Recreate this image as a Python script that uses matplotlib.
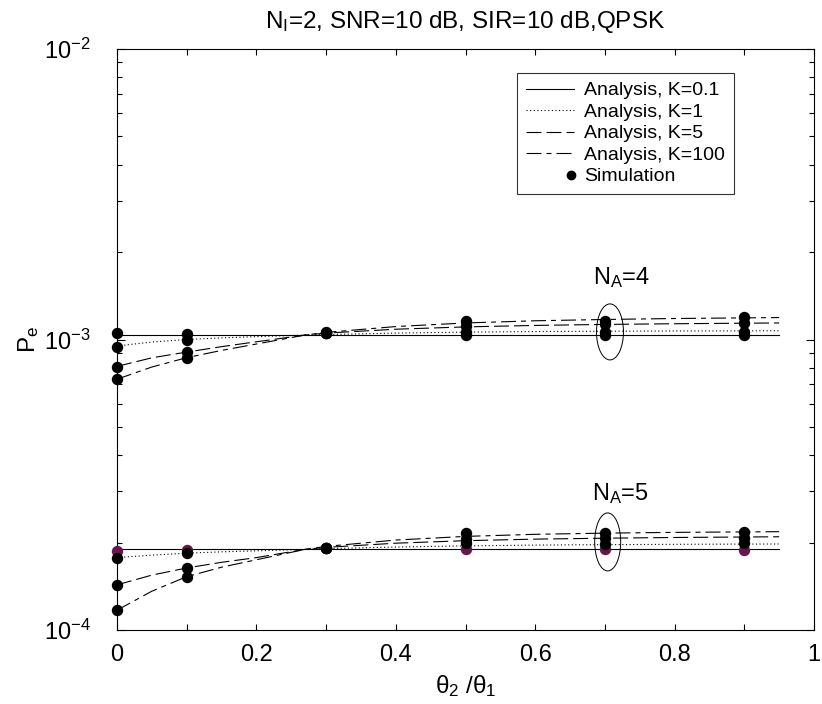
import matplotlib
matplotlib.use("Agg")
import matplotlib.pyplot as plt
from matplotlib.lines import Line2D
from matplotlib.patches import Ellipse
from matplotlib.legend_handler import HandlerLine2DCompound
from matplotlib.ticker import MultipleLocator, LogLocator, NullFormatter, FuncFormatter
import numpy as np

plt.rcParams['font.family'] = ['Liberation Sans', 'DejaVu Sans']
plt.rcParams['mathtext.fontset'] = 'custom'
plt.rcParams['mathtext.rm'] = 'Liberation Sans'
plt.rcParams['mathtext.it'] = 'Liberation Sans:italic'
plt.rcParams['lines.scale_dashes'] = False

# ---- data ----
theta_x = [0, 0.05, 0.1, 0.15, 0.2, 0.27, 0.3, 0.4, 0.5, 0.6, 0.7, 0.8, 0.9, 0.95]

# N_A = 4 analysis (x1e-3)
na4_k01 = [1.036, 1.036, 1.036, 1.036, 1.036, 1.036, 1.036, 1.036, 1.036, 1.036, 1.036, 1.036, 1.036, 1.036]
na4_k1 = [0.950, 0.980, 1.000, 1.013, 1.023, 1.036, 1.040, 1.052, 1.060, 1.065, 1.068, 1.070, 1.071, 1.072]
na4_k5 = [0.808, 0.865, 0.905, 0.945, 0.982, 1.036, 1.052, 1.085, 1.105, 1.118, 1.127, 1.133, 1.138, 1.140]
na4_k100 = [0.730, 0.804, 0.866, 0.917, 0.965, 1.036, 1.058, 1.108, 1.140, 1.160, 1.172, 1.181, 1.187, 1.190]

# N_A = 5 analysis (x1e-4)
na5_k01 = [1.895, 1.895, 1.895, 1.895, 1.895, 1.895, 1.895, 1.895, 1.895, 1.895, 1.895, 1.895, 1.895, 1.895]
na5_k1 = [1.775, 1.810, 1.838, 1.858, 1.873, 1.895, 1.905, 1.930, 1.948, 1.960, 1.967, 1.972, 1.976, 1.977]
na5_k5 = [1.430, 1.545, 1.635, 1.710, 1.775, 1.895, 1.925, 1.990, 2.030, 2.055, 2.070, 2.082, 2.090, 2.094]
na5_k100 = [1.170, 1.360, 1.526, 1.645, 1.745, 1.895, 1.940, 2.040, 2.100, 2.135, 2.155, 2.168, 2.176, 2.180]

# simulation points
sim_x = [0, 0.1, 0.3, 0.5, 0.7, 0.9]
sim4_k01 = [1.050, 1.045, 1.055, 1.040, 1.040, 1.040]
sim4_k1 = [0.945, 1.000, 1.055, 1.062, 1.062, 1.065]
sim4_k5 = [0.806, 0.908, 1.055, 1.110, 1.130, 1.140]
sim4_k100 = [0.729, 0.866, 1.060, 1.160, 1.160, 1.198]

sim5_k01 = [1.870, 1.890, 1.910, 1.905, 1.905, 1.890]
sim5_k1 = [1.774, 1.840, 1.910, 1.990, 1.985, 1.990]
sim5_k5 = [1.430, 1.640, 1.910, 2.050, 2.070, 2.080]
sim5_k100 = [1.170, 1.526, 1.910, 2.150, 2.150, 2.180]

labels = ['Analysis, K=0.1', 'Analysis, K=1', 'Analysis, K=5', 'Analysis, K=100', 'Simulation']

# ---- styles ----
styles = [
    dict(linestyle='-'),
    dict(linestyle=(0, (0.8, 1.8))),
    dict(linestyle=(0, (10.8, 3.6))),
    dict(linestyle=(0, (10.8, 3.6, 3.6, 3.6))),
]
lw = 0.8

fig = plt.figure(figsize=(8.22, 7.04), dpi=100)
ax = fig.add_axes([117/822, 74/704, 697/822, 581/704])

x = np.array(theta_x)
for series, st in zip([na4_k01, na4_k1, na4_k5, na4_k100], styles):
    ax.plot(x, np.array(series) * 1e-3, color='black', lw=lw, **st)
for series, st in zip([na5_k01, na5_k1, na5_k5, na5_k100], styles):
    ax.plot(x, np.array(series) * 1e-4, color='black', lw=lw, **st)

ms = 7.2
sx = np.array(sim_x)
ax.plot(sx, np.array(sim5_k01) * 1e-4, 'o', color='#6a1550', ms=ms, clip_on=False, zorder=4)
for s in [sim4_k01, sim4_k1, sim4_k5, sim4_k100]:
    ax.plot(sx, np.array(s) * 1e-3, 'o', color='black', ms=ms, clip_on=False, zorder=5)
for s in [sim5_k1, sim5_k5, sim5_k100]:
    ax.plot(sx, np.array(s) * 1e-4, 'o', color='black', ms=ms, clip_on=False, zorder=5)

ax.set_yscale('log')
ax.set_xlim(0, 1)
ax.set_ylim(1e-4, 1e-2)
ax.xaxis.set_major_locator(MultipleLocator(0.2))
ax.xaxis.set_minor_locator(MultipleLocator(0.1))
ax.xaxis.set_major_formatter(FuncFormatter(lambda v, p: ('%g' % round(v, 2))))
ax.yaxis.set_major_locator(LogLocator(base=10, numticks=5))
ax.yaxis.set_minor_locator(LogLocator(base=10, subs=np.arange(2, 10), numticks=20))
ax.yaxis.set_minor_formatter(NullFormatter())

ax.tick_params(which='both', direction='in', top=True, right=True, labelsize=17, width=0.8)
ax.tick_params(axis='x', which='both', length=4, pad=10)
ax.tick_params(axis='y', which='major', length=6, pad=19)
ax.tick_params(axis='y', which='minor', length=3.5)
for sp in ax.spines.values():
    sp.set_linewidth(0.8)

ax.set_title(r'$\mathregular{N_I}$=2, SNR=10 dB, SIR=10 dB,QPSK', fontsize=17.5, pad=15)
ax.set_xlabel(r'$\mathregular{\theta_2\ /\theta_1}$', fontsize=17.5, labelpad=5)
ax.set_ylabel(r'$\mathregular{P_e}$', fontsize=17.5, labelpad=2)

# annotations
ax.text(0.7245, 1.64e-3, r'$\mathregular{N_A}$=4', fontsize=17, ha='center', va='center')
ax.text(0.7217, 2.96e-4, r'$\mathregular{N_A}$=5', fontsize=17, ha='center', va='center')
ax.add_patch(Ellipse((0.7073, (np.log10(1.062e-3) + 4) / 2), 0.0387, 0.0964,
                     transform=ax.transAxes, fill=False, ec='black', lw=0.7))
ax.add_patch(Ellipse((0.704, (np.log10(2.01e-4) + 4) / 2), 0.0373, 0.0998,
                     transform=ax.transAxes, fill=False, ec='black', lw=0.7))


class RightMarkerHandler(HandlerLine2DCompound):
    def get_xdata(self, legend, xdescent, ydescent, width, height, fontsize):
        xdata = np.array([-xdescent, -xdescent + width])
        return xdata, np.array([-xdescent + width * 0.93])


# legend
handles = [Line2D([], [], color='black', lw=lw, **st) for st in styles]
sim_handle = Line2D([], [], color='black', marker='o', ms=6, linestyle='none')
handles.append(sim_handle)
leg = ax.legend(handles, labels, loc='upper left', bbox_to_anchor=(0.574, 0.9587),
                fontsize=14, frameon=True, fancybox=False, edgecolor='black',
                handlelength=2.5, handletextpad=0.5, labelspacing=0.2,
                borderpad=0.45, borderaxespad=0, numpoints=1,
                handler_map={sim_handle: RightMarkerHandler(numpoints=1)})
leg.get_frame().set_linewidth(0.8)

fig.savefig('out.png', dpi=100)
